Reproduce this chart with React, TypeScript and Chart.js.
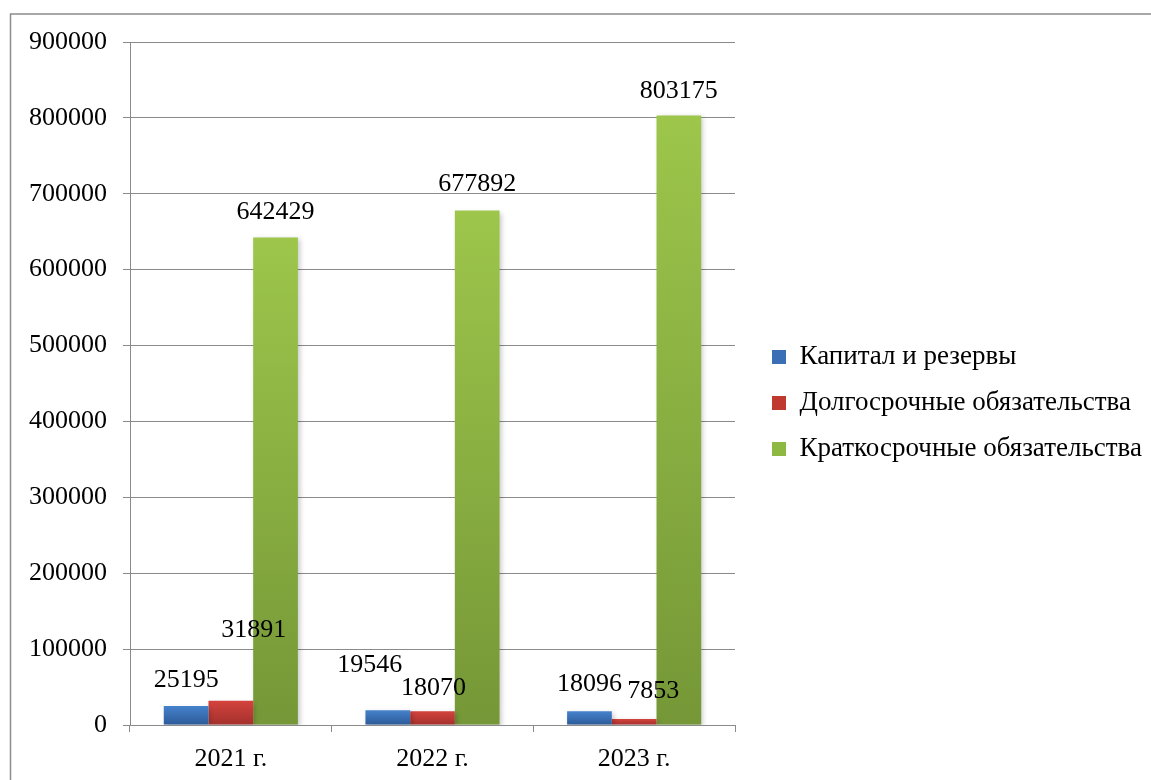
import React, { useEffect, useRef } from "react";
import { Chart, registerables } from "chart.js";

Chart.register(...registerables);

const categories = ["2021 г.", "2022 г.", "2023 г."];
const seriesNames = [
  "Капитал и резервы",
  "Долгосрочные обязательства",
  "Краткосрочные обязательства",
];
const capitalReserves = [25195, 19546, 18096];
const longTermLiabilities = [31891, 18070, 7853];
const shortTermLiabilities = [642429, 677892, 803175];
const yMax = 900000;
const yStep = 100000;

// label nudges (px) relative to default position above each bar
const labelNudges = [
  [[0, 0], [-18, -19], [0, -1]],
  [[23, -45], [1, 3], [19, -2]],
  [[0, 1], [0, 0], [0, 2]],
];

const gradStops = [
  ["#4682cc", "#2c5a98"],
  ["#d4433d", "#a3302c"],
  ["#9dc64b", "#759737"],
];
const legendColors = ["#3a6fb5", "#c0392f", "#8db842"];

const FONT = "'Liberation Serif', 'Times New Roman', serif";

export default function App() {
  const ref = useRef<HTMLCanvasElement | null>(null);
  useEffect(() => {
    document.body.style.margin = "0";
    const canvas = ref.current!;
    const barGradient = (si: number) => (ctx: any) => {
      const chart = ctx.chart;
      const ys = chart.scales?.y;
      if (!chart.chartArea || !ys || ctx.type !== "data") return gradStops[si][0];
      const top = ys.getPixelForValue(ctx.raw);
      const bottom = ys.getPixelForValue(0);
      if (!isFinite(top) || !isFinite(bottom) || Math.abs(bottom - top) < 1) return gradStops[si][0];
      const g = chart.ctx.createLinearGradient(0, top, 0, bottom);
      g.addColorStop(0, gradStops[si][0]);
      g.addColorStop(1, gradStops[si][1]);
      return g;
    };

    const frame = {
      id: "frame",
      beforeDraw(chart: any) {
        const c = chart.ctx;
        c.save();
        c.strokeStyle = "#8c8c8c";
        c.lineWidth = 1.5;
        c.beginPath();
        c.moveTo(10.5, chart.height + 5);
        c.lineTo(10.5, 14);
        c.lineTo(chart.width + 5, 14);
        c.stroke();
        c.restore();
      },
    };

    const legendFit = {
      id: "legendFit",
      afterInit(chart: any) {
        const lg = chart.legend;
        if (!lg || lg.__patched) return;
        const orig = lg.fit.bind(lg);
        lg.fit = () => {
          orig();
          lg.width = 416;
        };
        lg.__patched = true;
      },
      afterLayout(chart: any) {
        const lg = chart.legend;
        if (!lg) return;
        lg.left += 18;
        lg.right += 18;
        lg.top -= 8;
        lg.bottom -= 8;
      },
    };

    const shadow = {
      id: "barShadow",
      beforeDatasetDraw(chart: any) {
        const c = chart.ctx;
        c.save();
        c.shadowColor = "rgba(0,0,0,0.22)";
        c.shadowBlur = 5;
        c.shadowOffsetX = 2;
        c.shadowOffsetY = 2;
      },
      afterDatasetDraw(chart: any) {
        chart.ctx.restore();
      },
    };

    const valueLabels = {
      id: "valueLabels",
      afterDatasetsDraw(chart: any) {
        const c = chart.ctx;
        c.save();
        c.font = `26px ${FONT}`;
        c.fillStyle = "#000";
        c.textAlign = "center";
        c.textBaseline = "middle";
        chart.data.datasets.forEach((ds: any, si: number) => {
          const meta = chart.getDatasetMeta(si);
          meta.data.forEach((bar: any, i: number) => {
            const [dx, dy] = labelNudges[si][i];
            c.fillText(String(ds.data[i]), bar.x + dx, bar.y - 26 + dy);
          });
        });
        c.restore();
      },
    };

    const seriesData = [capitalReserves, longTermLiabilities, shortTermLiabilities];
    const chart = new Chart(canvas, {
      type: "bar",
      data: {
        labels: categories,
        datasets: seriesData.map((d, si) => ({
          label: seriesNames[si],
          data: d,
          backgroundColor: barGradient(si),
          borderWidth: 0,
          barPercentage: 1,
          categoryPercentage: 0.665,
        })),
      },
      options: {
        animation: false,
        responsive: false,
        maintainAspectRatio: false,
        layout: { padding: { top: 42, left: 0, right: 0, bottom: 0 } },
        scales: {
          x: {
            grid: {
              offset: true,
              drawOnChartArea: false,
              drawTicks: true,
              tickLength: 7,
              color: "#8a8a8a",
              lineWidth: 1,
            },
            border: { display: true, color: "#8a8a8a", width: 1 },
            ticks: {
              color: "#000",
              font: { family: FONT, size: 26 },
              padding: 12,
              maxRotation: 0,
            },
            afterFit: (s: any) => {
              s.height = 55;
            },
          },
          y: {
            min: 0,
            max: yMax,
            grid: {
              color: "#8a8a8a",
              lineWidth: 1,
              tickLength: 7,
              drawTicks: true,
            },
            border: { display: true, color: "#8a8a8a", width: 1 },
            ticks: {
              stepSize: yStep,
              color: "#000",
              font: { family: FONT, size: 26 },
              padding: 16,
              callback: (v: any) => String(v),
            },
            afterFit: (s: any) => {
              s.width = 130;
            },
          },
        },
        plugins: {
          tooltip: { enabled: false },
          legend: {
            position: "right",
            align: "center",
            labels: {
              color: "#000",
              font: { family: FONT, size: 27 },
              boxWidth: 14,
              boxHeight: 14,
              padding: 19,
              generateLabels: (ch: any) =>
                ch.data.datasets.map((ds: any, i: number) => ({
                  text: ds.label,
                  fillStyle: legendColors[i],
                  strokeStyle: legendColors[i],
                  lineWidth: 0,
                  hidden: false,
                  datasetIndex: i,
                  fontColor: "#000",
                })),
            },
          },
        },
      },
      plugins: [frame, legendFit, shadow, valueLabels],
    });
    return () => chart.destroy();
  }, []);

  return (
    <div style={{ width: 1151, height: 780 }}>
      <canvas ref={ref} width={1151} height={780} style={{ display: "block" }} />
    </div>
  );
}
